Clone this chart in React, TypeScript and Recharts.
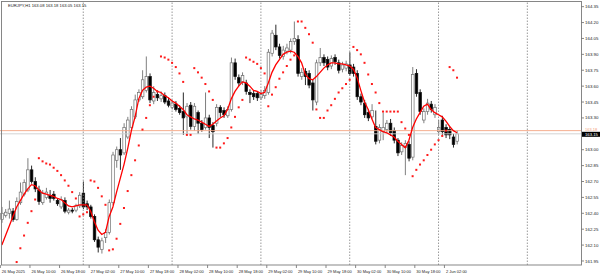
import { ComposedChart, Bar, Line, XAxis, YAxis, ReferenceLine } from 'recharts'

// EURJPY H1, 26 May 02:00 .. 2 Jun 05:00 (124 bars), then empty shift area
const opens = [
  162.34, 162.38, 162.40, 162.42, 162.34, 162.50, 162.58, 162.62, 162.81, 162.70,
  162.62, 162.50, 162.55, 162.57, 162.58, 162.52, 162.46, 162.52, 162.41, 162.43,
  162.43, 162.47, 162.59, 162.49, 162.46, 162.37, 162.15, 162.06, 162.17, 162.22,
  162.50, 162.90, 163.00, 162.97, 163.12, 163.21, 163.31, 163.47, 163.50, 163.56,
  163.69, 163.46, 163.52, 163.48, 163.51, 163.46, 163.40, 163.43, 163.39, 163.36,
  163.31, 163.42, 163.22, 163.35, 163.25, 163.21, 163.30, 163.23, 163.25, 163.40,
  163.37, 163.32, 163.38, 163.82, 163.68, 163.64, 163.63, 163.54, 163.53, 163.53,
  163.49, 163.51, 163.54, 163.91, 164.08, 163.97, 163.88, 163.93, 163.94, 164.02,
  164.04, 163.69, 163.74, 163.72, 163.63, 163.45, 163.82, 163.87, 163.85, 163.79,
  163.87, 163.82, 163.76, 163.77, 163.80, 163.78, 163.72, 163.50, 163.44, 163.35,
  163.31, 163.22, 163.09, 163.17, 163.19, 163.25, 163.18, 163.09, 162.98, 163.02,
  163.05, 162.93, 163.72, 163.54, 163.28, 163.36, 163.43, 163.33, 163.17, 163.28,
  163.21, 163.19, 163.12, 163.08,
]
const highs = [
  162.46, 162.44, 162.52, 162.45, 162.55, 162.69, 162.72, 162.92, 162.85, 162.74,
  162.66, 162.62, 162.64, 162.62, 162.61, 162.54, 162.56, 162.55, 162.45, 162.45,
  162.49, 162.60, 162.70, 162.52, 162.48, 162.39, 162.18, 162.17, 162.25, 162.53,
  162.98, 163.03, 163.11, 163.25, 163.31, 163.41, 163.52, 163.57, 163.75, 163.88,
  163.72, 163.60, 163.56, 163.55, 163.54, 163.49, 163.47, 163.46, 163.42, 163.54,
  163.44, 163.45, 163.44, 163.37, 163.28, 163.54, 163.33, 163.26, 163.43, 163.42,
  163.40, 163.41, 163.87, 163.86, 163.71, 163.73, 163.66, 163.57, 163.56, 163.55,
  163.56, 163.60, 163.95, 164.13, 164.18, 164.00, 163.98, 164.00, 164.05, 164.21,
  164.08, 163.77, 163.77, 163.75, 163.66, 163.85, 163.96, 163.90, 163.88, 163.89,
  163.90, 163.85, 163.83, 163.84, 163.92, 163.81, 163.75, 163.53, 163.47, 163.38,
  163.43, 163.37, 163.24, 163.35, 163.28, 163.29, 163.21, 163.11, 163.07, 163.09,
  163.08, 163.78, 163.76, 163.57, 163.39, 163.48, 163.46, 163.43, 163.28, 163.32,
  163.24, 163.22, 163.15, 163.18,
]
const lows = [
  162.31, 162.36, 162.35, 162.32, 162.33, 162.48, 162.56, 162.60, 162.68, 162.60,
  162.48, 162.48, 162.53, 162.50, 162.52, 162.47, 162.44, 162.40, 162.39, 162.40,
  162.41, 162.45, 162.44, 162.43, 162.35, 162.13, 162.03, 162.02, 162.12, 162.20,
  162.48, 162.83, 162.81, 162.95, 163.10, 163.19, 163.29, 163.45, 163.48, 163.54,
  163.44, 163.43, 163.46, 163.45, 163.43, 163.40, 163.38, 163.36, 163.33, 163.14,
  163.15, 163.19, 163.18, 163.15, 163.17, 163.19, 163.11, 163.02, 163.22, 163.31,
  163.30, 163.30, 163.36, 163.66, 163.60, 163.61, 163.52, 163.44, 163.47, 163.46,
  163.47, 163.48, 163.52, 163.88, 163.94, 163.86, 163.85, 163.90, 163.91, 163.99,
  163.69, 163.66, 163.61, 163.58, 163.37, 163.42, 163.79, 163.79, 163.75, 163.76,
  163.80, 163.72, 163.73, 163.74, 163.70, 163.69, 163.47, 163.42, 163.30, 163.27,
  163.29, 163.05, 163.06, 163.09, 163.16, 163.13, 163.06, 162.94, 162.95, 162.76,
  162.89, 162.90, 163.50, 163.33, 163.25, 163.33, 163.35, 163.30, 163.14, 163.14,
  163.11, 163.10, 163.02, 163.05,
]
const closes = [
  162.40, 162.41, 162.44, 162.34, 162.51, 162.60, 162.69, 162.81, 162.70, 162.63,
  162.51, 162.59, 162.60, 162.54, 162.54, 162.49, 162.53, 162.42, 162.43, 162.42,
  162.47, 162.57, 162.46, 162.46, 162.37, 162.15, 162.08, 162.14, 162.22, 162.50,
  162.95, 163.00, 162.95, 163.21, 163.28, 163.38, 163.47, 163.54, 163.66, 163.69,
  163.47, 163.54, 163.49, 163.51, 163.45, 163.42, 163.44, 163.38, 163.35, 163.30,
  163.41, 163.22, 163.41, 163.25, 163.19, 163.30, 163.21, 163.17, 163.40, 163.35,
  163.33, 163.38, 163.82, 163.69, 163.63, 163.70, 163.55, 163.52, 163.50, 163.49,
  163.52, 163.56, 163.92, 164.10, 163.97, 163.89, 163.94, 163.96, 164.02, 164.05,
  163.72, 163.73, 163.69, 163.61, 163.47, 163.82, 163.87, 163.82, 163.78, 163.86,
  163.83, 163.75, 163.80, 163.81, 163.72, 163.72, 163.50, 163.45, 163.33, 163.30,
  163.37, 163.08, 163.21, 163.21, 163.25, 163.16, 163.09, 162.97, 163.04, 163.06,
  162.92, 163.71, 163.53, 163.36, 163.36, 163.44, 163.38, 163.40, 163.21, 163.17,
  163.14, 163.14, 163.05, 163.15,
]
// red moving average
const maValues = [
  162.10, 162.19, 162.28, 162.37, 162.46, 162.52, 162.58, 162.63, 162.67, 162.66,
  162.62, 162.59, 162.58, 162.57, 162.56, 162.54, 162.53, 162.50, 162.47, 162.46,
  162.47, 162.48, 162.48, 162.48, 162.42, 162.32, 162.24, 162.20, 162.22, 162.37,
  162.46, 162.60, 162.73, 162.86, 163.01, 163.18, 163.31, 163.48, 163.56, 163.59,
  163.60, 163.58, 163.55, 163.54, 163.51, 163.49, 163.46, 163.44, 163.41, 163.38,
  163.33, 163.31, 163.29, 163.28, 163.26, 163.24, 163.22, 163.24, 163.27, 163.30,
  163.32, 163.38, 163.48, 163.55, 163.60, 163.64, 163.63, 163.60, 163.56, 163.55,
  163.53, 163.54, 163.63, 163.73, 163.80, 163.85, 163.90, 163.92, 163.93, 163.92,
  163.88, 163.82, 163.71, 163.67, 163.66, 163.69, 163.73, 163.77, 163.80, 163.82,
  163.82, 163.81, 163.81, 163.80, 163.79, 163.76, 163.68, 163.56, 163.45, 163.38,
  163.29, 163.21, 163.19, 163.17, 163.16, 163.14, 163.12, 163.08, 163.05, 163.02,
  163.09, 163.21, 163.29, 163.35, 163.41, 163.43, 163.38, 163.35, 163.33, 163.31,
  163.27, 163.22, 163.18, 163.16,
]
// parabolic SAR dots
const sarValues = [
  null, null, null, null, 161.94, 162.07, 162.19, 162.31, 162.42, 162.53,
  162.92, 162.89, 162.87, 162.86, 162.83, 162.80, 162.76, 162.71, 162.66, 162.60,
  162.54, 162.37, 162.39, 162.41, 162.71, 162.70, 162.64, 162.56, 162.48, 162.05,
  162.06, 162.16, 162.30, 162.45, 162.61, 162.76, 162.90, 163.04, 163.19, 163.30,
  163.42, 163.50, 163.55, 163.88, 163.87, 163.85, 163.82, 163.78, 163.72, 163.64,
  163.14, 163.14, 163.77, 163.73, 163.68, 163.62, 163.55, 163.47, 163.02, 163.02,
  163.06, 163.11, 163.21, 163.31, 163.40, 163.47, 163.87, 163.85, 163.83, 163.81,
  163.77, 163.72, 163.41, 163.52, 163.59, 163.67, 163.73, 163.79, 163.85, 163.89,
  164.21, 164.21, 164.15, 164.09, 164.01, 163.38, 163.30, 163.30, 163.37, 163.42,
  163.48, 163.54, 163.58, 163.62, 163.66, 163.97, 163.94, 163.90, 163.82, 163.71,
  163.62, 163.54, 163.44, 163.36, 163.36, 163.36, 163.36, 163.36, 163.26, 163.20,
  163.14, 162.75, 162.81, 162.86, 162.90, 162.95, 163.00, 163.05, 163.09, 163.13,
  163.18, 163.78, 163.75, 163.68,
]

const slotCount = 157
const tickSlots = [0, 8, 16, 24, 32, 40, 48, 56, 64, 72, 80, 88, 96, 104, 112, 120]
const tickLabels = [
  '26 May 2025', '26 May 10:00', '26 May 18:00', '27 May 02:00', '27 May 10:00',
  '27 May 18:00', '28 May 02:00', '28 May 10:00', '28 May 18:00', '29 May 02:00',
  '29 May 10:00', '29 May 18:00', '30 May 02:00', '30 May 10:00', '30 May 18:00',
  '2 Jun 02:00',
]
const daySlots = [22, 46, 70, 94, 118, 142]
const priceTicks = [
  161.95, 162.10, 162.25, 162.40, 162.55, 162.70, 162.85, 163.00,
  163.30, 163.45, 163.60, 163.75, 163.90, 164.05, 164.20, 164.35,
]
const bidPrice = 163.15
const askPrice = 163.18
const title = 'EURJPY,H1  163.08 163.18 163.05 163.15'

const data = Array.from({ length: slotCount }, (_, i) =>
  i < opens.length
    ? {
        i,
        range: [lows[i], highs[i]],
        o: opens[i], h: highs[i], l: lows[i], c: closes[i],
        ma: maValues[i],
        sar: sarValues[i],
      }
    : { i, range: null, ma: null, sar: null },
)

const FONT = '"Liberation Sans", Arial, sans-serif'
const PLOT_BOTTOM = 265

function Candle(props: any) {
  const { x, y, width, height, payload } = props
  if (!payload || payload.o == null) return <g />
  const { o, h, l, c } = payload
  const top = Math.min(y, y + height)
  const span = Math.abs(height)
  const k = h - l > 0 ? span / (h - l) : 0
  const py = (p: number) => top + (h - p) * k
  const cx = x + width / 2
  const up = c >= o
  const bodyTop = py(Math.max(o, c))
  const bodyH = Math.max(0.8, Math.abs(py(o) - py(c)))
  const col = up ? '#707070' : '#111'
  return (
    <g>
      <line x1={cx} x2={cx} y1={top} y2={top + span} stroke={col} strokeWidth={0.9} />
      <rect x={cx - 1.3} y={bodyTop} width={2.6} height={bodyH}
        fill={up ? '#fff' : '#000'} stroke={col} strokeWidth={0.7} />
    </g>
  )
}

function SarDot(props: any) {
  const { cx, cy, index, value } = props
  if (value == null || cx == null || cy == null) return <g key={index} />
  return <rect key={index} x={cx - 1} y={cy - 1} width={2} height={2} fill="#ff1a1a" />
}

function TimeTick(props: any) {
  const { x, payload } = props
  const n = tickSlots.indexOf(payload.value)
  return (
    <g>
      <line x1={x - 1.5} x2={x - 1.5} y1={PLOT_BOTTOM} y2={PLOT_BOTTOM + 3} stroke="#555" strokeWidth={0.7} />
      <text x={x} y={PLOT_BOTTOM + 7.6} fontSize={4} fontFamily={FONT} fill="#222" textAnchor="start">
        {tickLabels[n]}
      </text>
    </g>
  )
}

function BidTag(props: any) {
  const vb = props.viewBox || {}
  const x = vb.x + vb.width
  const y = vb.y
  return (
    <g>
      <text x={x + 4} y={y - 4.6} dominantBaseline="central" fontSize={4} fontFamily={FONT} fill="#f4a07a">
        {askPrice.toFixed(2)}
      </text>
      <rect x={x + 1} y={y - 2} width={19} height={5} fill="#000" />
      <text x={x + 4} y={y + 0.6} dominantBaseline="central" fontSize={4.2} fontFamily={FONT} fill="#fff">
        {bidPrice.toFixed(2)}
      </text>
    </g>
  )
}

export default function App() {
  return (
    <div style={{ position: 'absolute', left: 0, top: 0, width: 600, height: 277, background: '#fff' }}>
      <ComposedChart
        width={600}
        height={277}
        data={data}
        margin={{ top: 2, right: 0, bottom: 0, left: 0 }}
        barCategoryGap={0}
        barGap={0}
      >
        <XAxis
          dataKey="i"
          type="category"
          ticks={tickSlots}
          interval={0}
          tick={TimeTick}
          tickLine={false}
          axisLine={false}
          height={12}
        />
        <YAxis
          orientation="right"
          width={19}
          domain={[161.912, 164.394]}
          allowDataOverflow
          ticks={priceTicks}
          tickFormatter={(v: number) => v.toFixed(2)}
          tick={{ fontSize: 4.4, fill: '#222', fontFamily: FONT }}
          tickSize={3}
          tickMargin={1}
          tickLine={{ stroke: '#555', strokeWidth: 0.7 }}
          axisLine={false}
        />
        {daySlots.map(s => (
          <ReferenceLine key={s} x={s} stroke="#808080" strokeWidth={0.8} strokeDasharray="1.5 1.5" />
        ))}
        <ReferenceLine y={askPrice} stroke="#f4a582" strokeWidth={0.9} />
        <ReferenceLine y={bidPrice} stroke="#cfcfcf" strokeWidth={0.9} label={(p: any) => <BidTag {...p} />} />
        <Bar dataKey="range" shape={Candle} isAnimationActive={false} />
        <Line
          dataKey="ma"
          type="linear"
          stroke="#ff0000"
          strokeWidth={1.3}
          dot={false}
          activeDot={false}
          isAnimationActive={false}
        />
        <Line
          dataKey="sar"
          stroke="none"
          dot={SarDot}
          activeDot={false}
          isAnimationActive={false}
        />
      </ComposedChart>
      <svg width={600} height={277} style={{ position: 'absolute', left: 0, top: 0, pointerEvents: 'none' }}>
        <rect x={1.5} y={1.5} width={580} height={PLOT_BOTTOM - 1.5} fill="none" stroke="#7a7a7a" strokeWidth={0.9} />
        <text x={8} y={6.5} fontSize={4.2} fontFamily={FONT} fill="#222">{title}</text>
      </svg>
    </div>
  )
}
